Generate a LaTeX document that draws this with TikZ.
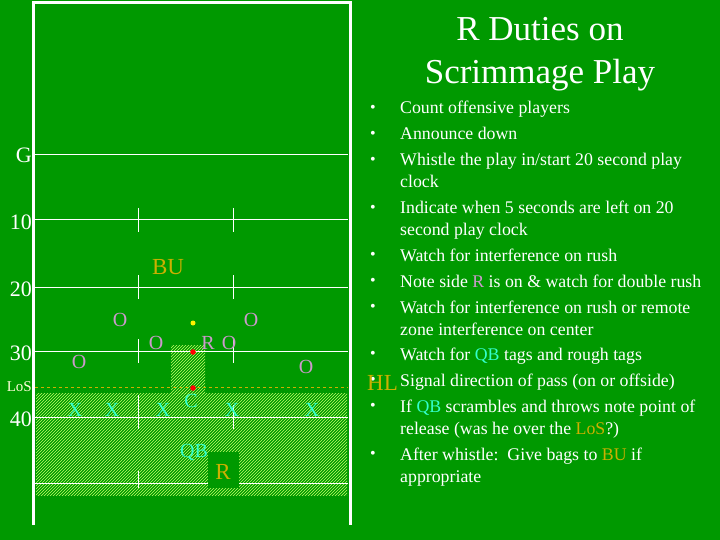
\documentclass[tikz,border=0pt]{standalone}
\usepackage{fontspec}
\setmainfont{Liberation Serif}
\usetikzlibrary{patterns}
\definecolor{fieldg}{HTML}{009900}
\definecolor{opur}{HTML}{CC99CC}
\definecolor{xcy}{HTML}{33FFCC}
\definecolor{gld}{HTML}{CCB000}
\tikzset{
 lbl/.style={font=\fontsize{22}{22}\selectfont,text=white,anchor=east,inner sep=0pt},
 pl/.style={font=\fontsize{20}{20}\selectfont,inner sep=0pt},
 off/.style={pl,text=opur},
 def/.style={pl,text=xcy},
 bl/.style={font=\fontsize{17.8}{17.8}\selectfont,text=white,anchor=base west,inner sep=0pt},
 bul/.style={font=\fontsize{16}{16}\selectfont,text=white,inner sep=0pt},
 yl/.style={white,line width=1pt},
 hatch/.style={pattern=north east lines,pattern color=yellow!60!green!60!white}
}
\begin{document}
\begin{tikzpicture}[x=1pt,y=-1pt]
\fill[fieldg] (0,0) rectangle (720,540);
\useasboundingbox (0,0) rectangle (720,540);
% hatched zones
\fill[hatch] (36,393) rectangle (347,495);
\fill[hatch] (171,345) rectangle (205,393);
% yard lines
\foreach \y in {220,287,351,417,483}{\draw[yl] (35,\y) -- (348,\y);}
\foreach \y in {220,287,351,417}{\draw[yl] (138,\y-12) -- (138,\y+12); \draw[yl] (233,\y-12) -- (233,\y+12);}
\draw[yl] (138,395) -- (138,425);
\draw[yl] (233,425) -- (233,410);
\draw[yl] (138,471) -- (138,488);
\draw[yl] (35,155) -- (348,155);
\draw[gld,dashed,line width=0.6pt] (35,387) -- (348,387);
\draw[white,line width=3pt] (33,525) -- (33,3) -- (350,3) -- (350,525);
\fill[fieldg] (208,452) rectangle (239,488);
% labels
\node[lbl] (g) at (32,155) {G};
\node[lbl] (y10) at (32,222) {10};
\node[lbl] (y20) at (32,289) {20};
\node[lbl] (y30) at (32,353) {30};
\node[lbl,text=white!85!yellow,font=\fontsize{15}{15}\selectfont] (los) at (32,387) {LoS};
\node[lbl] (y40) at (32,419) {40};
\node[pl,text=gld,font=\fontsize{23}{23}\selectfont] (bu) at (168,267) {BU};
% players
\node[off] (o1) at (120,320) {O};
\node[off] (o2) at (251,320) {O};
\node[off] (o3) at (156,343) {O};
\node[off] (o4) at (229,343) {O};
\node[off] (ro) at (208,343) {R};
\node[off] (o5) at (79,362) {O};
\node[off] (o6) at (306,367) {O};
\fill[yellow] (193,323) circle (2.5) coordinate (yd);
\fill[red] (193,352) circle (2.8) coordinate (rd1);
\fill[red] (193,388) circle (2.8) coordinate (rd2);
\node[def] (x1) at (75,410) {X};
\node[def] (x2) at (112,410) {X};
\node[def] (x3) at (163,410) {X};
\node[def] (x4) at (232,410) {X};
\node[def] (x5) at (312,410) {X};
\node[def] (c) at (191,401) {C};
\node[def] (qb) at (194,452) {QB};
\node[pl,text=gld,font=\fontsize{23}{23}\selectfont] (rr) at (223,472) {R};
% bullets
\foreach \y in {109,135,161,209,256,282,308,355,381,407,455}{\node[bul] at (373,\y) {•};}
\node[pl,text=gld,font=\fontsize{23}{23}\selectfont,anchor=east] (hl) at (398,383) {HL};
% title
\node[text=white,font=\fontsize{35}{35}\selectfont,align=center,inner sep=0pt] (title) at (540,54) {R Duties on\\[8pt]Scrimmage Play};
\node[bl] (t1) at (400,114) {Count offensive players};
\node[bl] (t2) at (400,140) {Announce down};
\node[bl] (t3) at (400,166) {Whistle the play in/start 20 second play};
\node[bl] (t3b) at (400,188) {clock};
\node[bl] (t4) at (400,214) {Indicate when 5 seconds are left on 20};
\node[bl] (t4b) at (400,236) {second play clock};
\node[bl] (t5) at (400,261) {Watch for interference on rush};
\node[bl] (t6) at (400,287) {Note side \textcolor{opur}{R} is on \& watch for double rush};
\node[bl] (t7) at (400,313) {Watch for interference on rush or remote};
\node[bl] (t7b) at (400,335) {zone interference on center};
\node[bl] (t8) at (400,360) {Watch for \textcolor{xcy}{QB} tags and rough tags};
\node[bl] (t9) at (400,386) {Signal direction of pass (on or offside)};
\node[bl] (t10) at (400,412) {If \textcolor{xcy}{QB} scrambles and throws note point of};
\node[bl] (t10b) at (400,434) {release (was he over the \textcolor{gld}{LoS}?)};
\node[bl] (t11) at (400,460) {After whistle:\ \ Give bags to \textcolor{gld}{BU} if};
\node[bl] (t11b) at (400,482) {appropriate};
\end{tikzpicture}
\end{document}
